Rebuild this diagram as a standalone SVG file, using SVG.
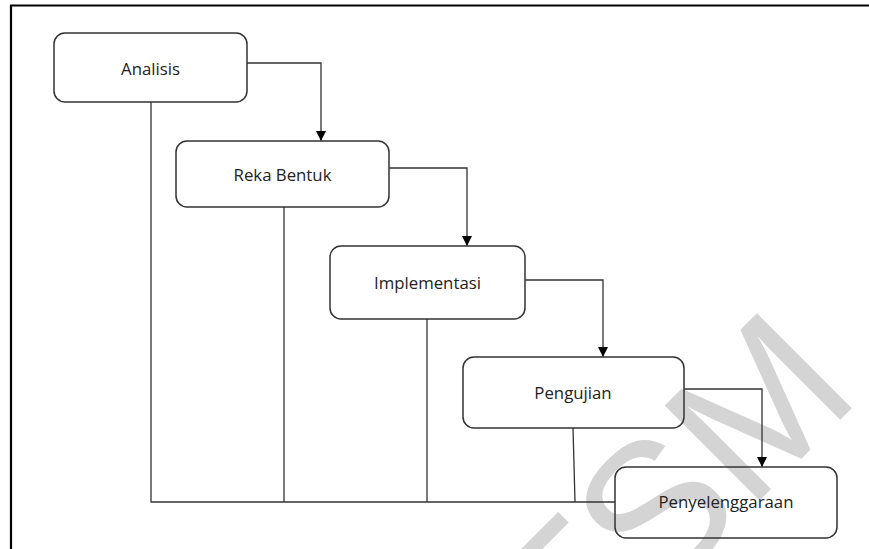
<svg xmlns="http://www.w3.org/2000/svg" width="869" height="549" viewBox="0 0 869 549">
  <style>
    .frame { stroke: #000; stroke-width: 2.2; fill: none; }
    .box { fill: none; stroke: #333; stroke-width: 1.5; }
    .lbl { font-family: "Open Sans", "Liberation Sans", sans-serif; font-size: 16.8px; fill: #222; text-anchor: middle; }
    .conn { fill: none; stroke: #333; stroke-width: 1.3; }
    .wm { font-family: "Liberation Sans", Arial, sans-serif; font-size: 195px; fill: #d4d4d4; }
  </style>
  <defs>
    <marker id="arr" markerWidth="10" markerHeight="10" refX="10" refY="5" orient="auto" markerUnits="userSpaceOnUse" viewBox="0 0 10 10">
      <path d="M0,0 L10,5 L0,10 Z" fill="#000"/>
    </marker>
  </defs>
  <rect width="869" height="549" fill="#fff"/>
  <text class="wm" transform="translate(572,688) rotate(-45)">TSM</text>
  <path class="frame" d="M11,549 V5.5 H869"/>
  <g id="connectors">
    <path class="conn" d="M247,63 H321 V141" marker-end="url(#arr)"/>
    <path class="conn" d="M389,168 H467 V246" marker-end="url(#arr)"/>
    <path class="conn" d="M525,280 H603 V357" marker-end="url(#arr)"/>
    <path class="conn" d="M684,389 H762 V467" marker-end="url(#arr)"/>
    <path class="conn" d="M151,102 V502 H615"/>
    <path class="conn" d="M284,207 V502"/>
    <path class="conn" d="M427,319 V502"/>
    <path class="conn" d="M573,428 L575,502"/>
  </g>
  <g id="analisis">
    <rect class="box" x="54" y="33" width="193" height="69" rx="11"/>
    <text class="lbl" x="150.5" y="75">Analisis</text>
  </g>
  <g id="reka-bentuk">
    <rect class="box" x="176" y="141" width="213" height="66" rx="11"/>
    <text class="lbl" x="282.5" y="181">Reka Bentuk</text>
  </g>
  <g id="implementasi">
    <rect class="box" x="330" y="246" width="195" height="73" rx="11"/>
    <text class="lbl" x="427.5" y="289">Implementasi</text>
  </g>
  <g id="pengujian">
    <rect class="box" x="463" y="357" width="221" height="71" rx="11"/>
    <text class="lbl" x="573" y="399">Pengujian</text>
  </g>
  <g id="penyelenggaraan">
    <rect class="box" x="615" y="467" width="222" height="71" rx="11"/>
    <text class="lbl" x="726" y="508">Penyelenggaraan</text>
  </g>
</svg>
